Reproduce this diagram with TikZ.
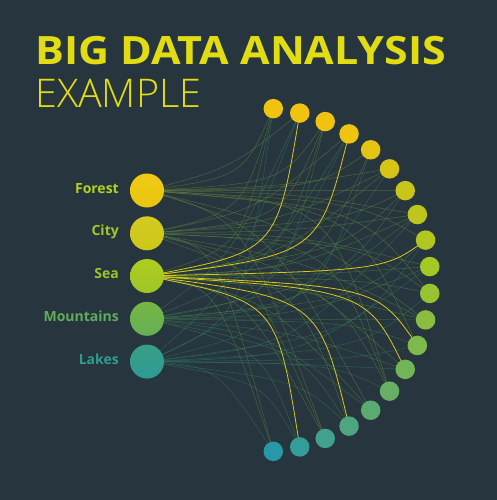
\documentclass[tikz,border=0pt]{standalone}
\usepackage{fontspec}
\setmainfont{Open Sans}
\newfontfamily\lightfont{Open Sans Light}
\newfontfamily\headfont{Open Sans}[FakeStretch=1.1]
\usepackage{tikz}
\usetikzlibrary{calc,positioning}
\definecolor{bgc}{HTML}{27353E}
\definecolor{titlec}{HTML}{E2DD12}
\definecolor{goldc}{HTML}{EFC30F}
\definecolor{limec}{HTML}{A4C824}
\definecolor{tealc}{HTML}{2897A6}
\definecolor{wirec}{HTML}{2F7A55}
\definecolor{hotc}{HTML}{D9C81A}
\definecolor{forestc}{HTML}{F0C60A}
\definecolor{cityc}{HTML}{D2C816}
\definecolor{seac}{HTML}{A6C822}
\definecolor{mountainsc}{HTML}{6EB24A}
\definecolor{lakesc}{HTML}{2F9C90}
\pgfdeclarelayer{back}
\pgfdeclarelayer{links}
\pgfsetlayers{back,links,main}
\tikzstyle{source} = [circle,minimum size=34pt,inner sep=0pt]
\tikzstyle{target} = [circle,minimum size=19.5pt,inner sep=0pt]
\tikzstyle{tag} = [anchor=base east,inner sep=0pt,font=\bfseries\fontsize{14}{14}\selectfont]
\tikzstyle{link} = [line width=0.5pt,opacity=0.5]
\tikzstyle{hot} = [line width=0.8pt,draw=hotc]

\begin{document}
\begin{tikzpicture}[x=1pt,y=-1pt]
  \begin{pgfonlayer}{back}
    \fill[bgc] (0,0) rectangle (497,500);
  \end{pgfonlayer}
  \useasboundingbox (0,0) rectangle (497,500);

  % title
  \node (title)[anchor=base west,inner sep=0pt,text=titlec,font=\headfont\bfseries\fontsize{39}{39}\selectfont] at (35,65) {BIG DATA ANALYSIS};
  \node (subtitle)[anchor=base west,inner sep=0pt,text=titlec,font=\lightfont\fontsize{39.5}{39.5}\selectfont] at (35,108) {EXAMPLE};

  % categories
  \node (forest)[source,top color=forestc!95!white,bottom color=forestc!90!limec] at (147,190.5) {};
  \node (city)[source,top color=cityc!95!white,bottom color=cityc!85!limec] at (147,233.3) {};
  \node (sea)[source,top color=seac!90!yellow,bottom color=seac!85!mountainsc] at (147,276) {};
  \node (mountains)[source,top color=mountainsc!85!seac,bottom color=mountainsc!85!lakesc] at (147,318.8) {};
  \node (lakes)[source,top color=lakesc!85!mountainsc,bottom color=lakesc!80!tealc] at (147,361.6) {};

  \node (forestlbl)[tag,text=limec!85!yellow] at (119,193) {Forest};
  \node (citylbl)[tag,text=limec] at (119,235.8) {City};
  \node (sealbl)[tag,text=limec!80!mountainsc] at (119,278.5) {Sea};
  \node (mountainslbl)[tag,text=mountainsc!75!lakesc] at (119,321.3) {Mountains};
  \node (lakeslbl)[tag,text=lakesc] at (119,364.1) {Lakes};

  % ring of targets
  \coordinate (hub) at (258.3,280);
  \foreach \i in {1,...,20}{
    \pgfmathtruncatemacro\pa{max(0,min(100,(\i-4)*100/6))}
    \pgfmathtruncatemacro\pb{max(0,min(100,(\i-10)*10))}
    \xglobal\colorlet{r\i c}{tealc!\pb!limec!\pa!goldc}
    \pgfmathsetmacro\ang{-85+(\i-1)*170/19}
    \node (r\i)[target,fill=r\i c] at ($(hub)+(\ang:172)$) {};
  }

  % links
  \begin{pgfonlayer}{links}
    \foreach \s/\tl in {forest/{1,2,3,5,6,7,8,9,11,12,13,15,16,18},
                        city/{1,3,4,6,7,8,10,11,12,14,15,17,18,20},
                        sea/{1,3,5,6,7,8,10,11,12,15,16,18,20},
                        mountains/{2,3,4,5,7,8,9,10,12,13,14,16,17,19},
                        lakes/{1,2,4,6,8,9,10,11,13,14,15,17,19,20}}{
      \foreach \t in \tl {
        \pgfmathsetmacro\fx{0.55+0.07*mod(\t*3,6)}
        \pgfmathsetmacro\fy{0.05+0.06*mod(\t*7,5)}
        \draw[link,draw=\s c!35!wirec] let \p1=(\s), \p2=(r\t) in
          (\p1) .. controls ({\x1+\fx*(\x2-\x1)},{\y1+\fy*(\y2-\y1)}) .. (\p2);
      }
    }
    \foreach \t in {2,4,9,13,14,17,19}
      \draw[hot] let \p1=(sea), \p2=(r\t) in
        (\p1) .. controls ({\x1+0.85*(\x2-\x1)},{\y1+0.15*(\y2-\y1)}) .. (\p2);
  \end{pgfonlayer}
\end{tikzpicture}
\end{document}
